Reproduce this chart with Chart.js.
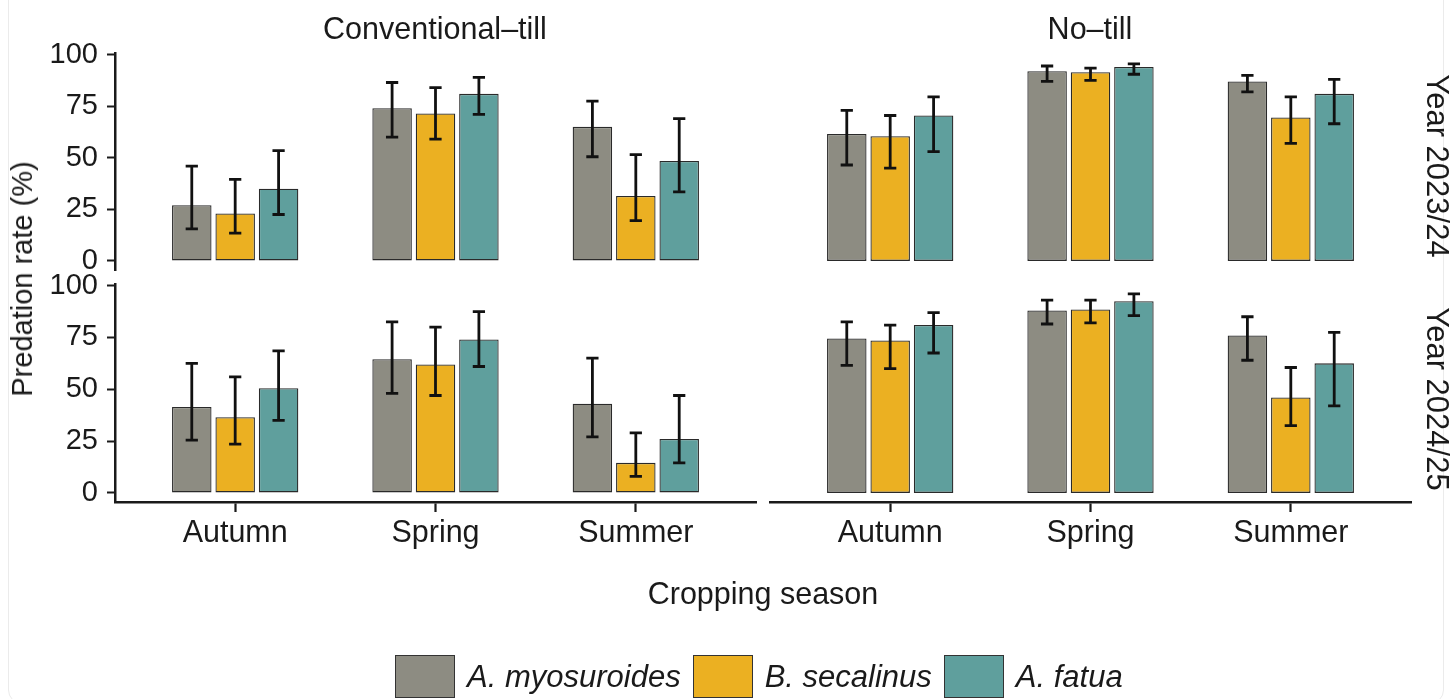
<!DOCTYPE html>
<html>
<head>
<meta charset="utf-8">
<script src="https://cdn.jsdelivr.net/npm/chart.js@4.4.0/dist/chart.umd.min.js"></script>
<style>
  html, body { margin: 0; padding: 0; background: #fff; }
  body { width: 1451px; height: 699px; position: relative; overflow: hidden;
         font-family: "Liberation Sans", Arial, sans-serif; color: #1a1a1a; }
  canvas { position: absolute; left: 0; top: 0; }
  .frame { position: absolute; left: 8px; top: -20px; width: 1434px; height: 722px;
           border: 1px solid #ebebeb; border-radius: 14px; }
  .lbl { position: absolute; font-size: 30.5px; line-height: 30px; white-space: nowrap; }
  .cx { transform: translateX(-50%); }
  .rot-r { transform: translate(-50%, -50%) rotate(90deg); font-size: 31px; }
  .rot-l { transform: translate(-50%, -50%) rotate(-90deg); font-size: 29px; }
  #legend { position: absolute; left: 395px; top: 655px; height: 43px; display: flex; align-items: center; }
  #legend .key { width: 60px; height: 43px; box-sizing: border-box; border: 1px solid #333; }
  #legend .txt { font-size: 31px; font-style: italic; margin: 0 12px; line-height: 43px; }
</style>
</head>
<body>
<div class="frame"></div>
<canvas id="tl" width="1451" height="699"></canvas>
<canvas id="tr" width="1451" height="699"></canvas>
<canvas id="bl" width="1451" height="699"></canvas>
<canvas id="br" width="1451" height="699"></canvas>

<div class="lbl cx" style="left:435px; top:13px;">Conventional–till</div>
<div class="lbl cx" style="left:1090px; top:13px;">No–till</div>
<div class="lbl rot-r" style="left:1437px; top:166px;">Year 2023/24</div>
<div class="lbl rot-r" style="left:1437px; top:399px;">Year 2024/25</div>
<div class="lbl rot-l" style="left:22px; top:279px;">Predation rate (%)</div>
<div class="lbl cx" style="left:763px; top:578px;">Cropping season</div>
<div id="legend"></div>

<script>
const seasons = ['Autumn', 'Spring', 'Summer'];
const species = ['A. myosuroides', 'B. secalinus', 'A. fatua'];
const speciesColors = ['#8d8c82', '#ebb022', '#5f9f9d'];
const yTicks = [0, 25, 50, 75, 100];

// rows = species, columns = seasons (Autumn, Spring, Summer)
// Conventional-till, Year 2023/24
const conv2324Mean = [[27, 74, 65], [23, 71.5, 31.5], [35, 81, 48.5]];
const conv2324Low  = [[15.5, 60, 50.5], [13.5, 59, 19.5], [22.5, 71, 33.5]];
const conv2324High = [[46, 86.5, 77.5], [39.5, 84, 51.5], [53.5, 89, 69]];
// No-till, Year 2023/24
const no2324Mean = [[61.5, 92, 87], [60.5, 91.5, 69.5], [70.5, 94, 81]];
const no2324Low  = [[46.5, 87, 82], [45, 87.5, 57], [53, 90.5, 66.5]];
const no2324High = [[73, 94.5, 90], [70.5, 93.5, 79.5], [79.5, 95.5, 88]];
// Conventional-till, Year 2024/25
const conv2425Mean = [[41.5, 64.5, 43], [36.5, 62, 14.5], [50.5, 74, 26]];
const conv2425Low  = [[25.5, 48, 27], [23.5, 47, 8], [35, 61, 14.5]];
const conv2425High = [[62.5, 82.5, 65], [56, 80, 29], [68.5, 87.5, 47]];
// No-till, Year 2024/25
const no2425Mean = [[74.5, 88, 76], [73.5, 88.5, 46], [81, 92.5, 62.5]];
const no2425Low  = [[61.5, 81.5, 64], [60, 82, 32.5], [67.5, 85.5, 42]];
const no2425High = [[82.5, 93, 85], [81, 93, 60.5], [87, 96, 77.5]];

const FONT = 'Liberation Sans, Arial, sans-serif';
const INK = '#1a1a1a';

// draws mean +/- interval whiskers on top of each bar
const errorBars = {
  id: 'errorBars',
  afterDatasetsDraw(chart) {
    const ctx = chart.ctx;
    const yScale = chart.scales.y;
    ctx.save();
    ctx.strokeStyle = '#111';
    ctx.lineWidth = 2.8;
    chart.data.datasets.forEach((ds, d) => {
      chart.getDatasetMeta(d).data.forEach((bar, i) => {
        const pt = ds.data[i];
        const top = yScale.getPixelForValue(pt.hi);
        const bottom = yScale.getPixelForValue(pt.lo);
        const cap = bar.width * 0.155;
        ctx.beginPath();
        ctx.moveTo(bar.x, top); ctx.lineTo(bar.x, bottom);
        ctx.moveTo(bar.x - cap, top); ctx.lineTo(bar.x + cap, top);
        ctx.moveTo(bar.x - cap, bottom); ctx.lineTo(bar.x + cap, bottom);
        ctx.stroke();
      });
    });
    ctx.restore();
  }
};

function makePanel(id, means, lows, highs, opt) {
  const datasets = species.map((name, s) => ({
    label: name,
    data: seasons.map((_, i) => ({ x: i, y: means[s][i], lo: lows[s][i], hi: highs[s][i] })),
    backgroundColor: speciesColors[s],
    borderColor: '#2a2a2a',
    borderWidth: 1.3,
    borderSkipped: false,
    categoryPercentage: 0.65,
    barPercentage: 0.91
  }));

  return new Chart(document.getElementById(id).getContext('2d'), {
    type: 'bar',
    data: { datasets: datasets },
    options: {
      responsive: false,
      animation: false,
      devicePixelRatio: 1,
      layout: { padding: opt.padding },
      plugins: { legend: { display: false }, tooltip: { enabled: false } },
      scales: {
        x: {
          type: 'linear',
          min: -0.6,
          max: 2.6,
          offset: false,
          display: opt.showX,
          afterBuildTicks: s => { s.ticks = seasons.map((_, i) => ({ value: i })); },
          afterFit: s => { if (opt.showX) s.height = 60; },
          grid: { offset: false, drawOnChartArea: false, drawTicks: true, tickLength: 10, tickWidth: 2.2, tickColor: INK },
          border: { display: true, width: 2.5, color: INK },
          ticks: {
            callback: v => seasons[v],
            font: { family: FONT, size: 30.5 },
            color: INK,
            padding: 3,
            maxRotation: 0,
            autoSkip: false
          }
        },
        y: {
          min: -4.4,
          max: 100.8,
          display: opt.showY,
          afterBuildTicks: s => { s.ticks = yTicks.map(v => ({ value: v })); },
          afterFit: s => { if (opt.showY) s.width = 115; },
          grid: { drawOnChartArea: false, tickLength: 8, tickWidth: 2, tickColor: INK },
          border: { display: true, width: 2.5, color: INK },
          ticks: { font: { family: FONT, size: 29 }, color: INK, padding: 9 }
        }
      }
    },
    plugins: [errorBars]
  });
}

makePanel('tl', conv2324Mean, conv2324Low, conv2324High,
  { showX: false, showY: true, padding: { left: 0, top: 53, right: 695, bottom: 429 } });
makePanel('tr', no2324Mean, no2324Low, no2324High,
  { showX: false, showY: false, padding: { left: 770, top: 53, right: 40, bottom: 429 } });
makePanel('bl', conv2425Mean, conv2425Low, conv2425High,
  { showX: true, showY: true, padding: { left: 0, top: 284, right: 695, bottom: 137 } });
makePanel('br', no2425Mean, no2425Low, no2425High,
  { showX: true, showY: false, padding: { left: 770, top: 284, right: 40, bottom: 137 } });

// legend built from the series names and colours
const legend = document.getElementById('legend');
species.forEach((name, s) => {
  const key = document.createElement('span');
  key.className = 'key';
  key.style.background = speciesColors[s];
  const txt = document.createElement('span');
  txt.className = 'txt';
  txt.textContent = name;
  legend.appendChild(key);
  legend.appendChild(txt);
});
</script>
</body>
</html>
